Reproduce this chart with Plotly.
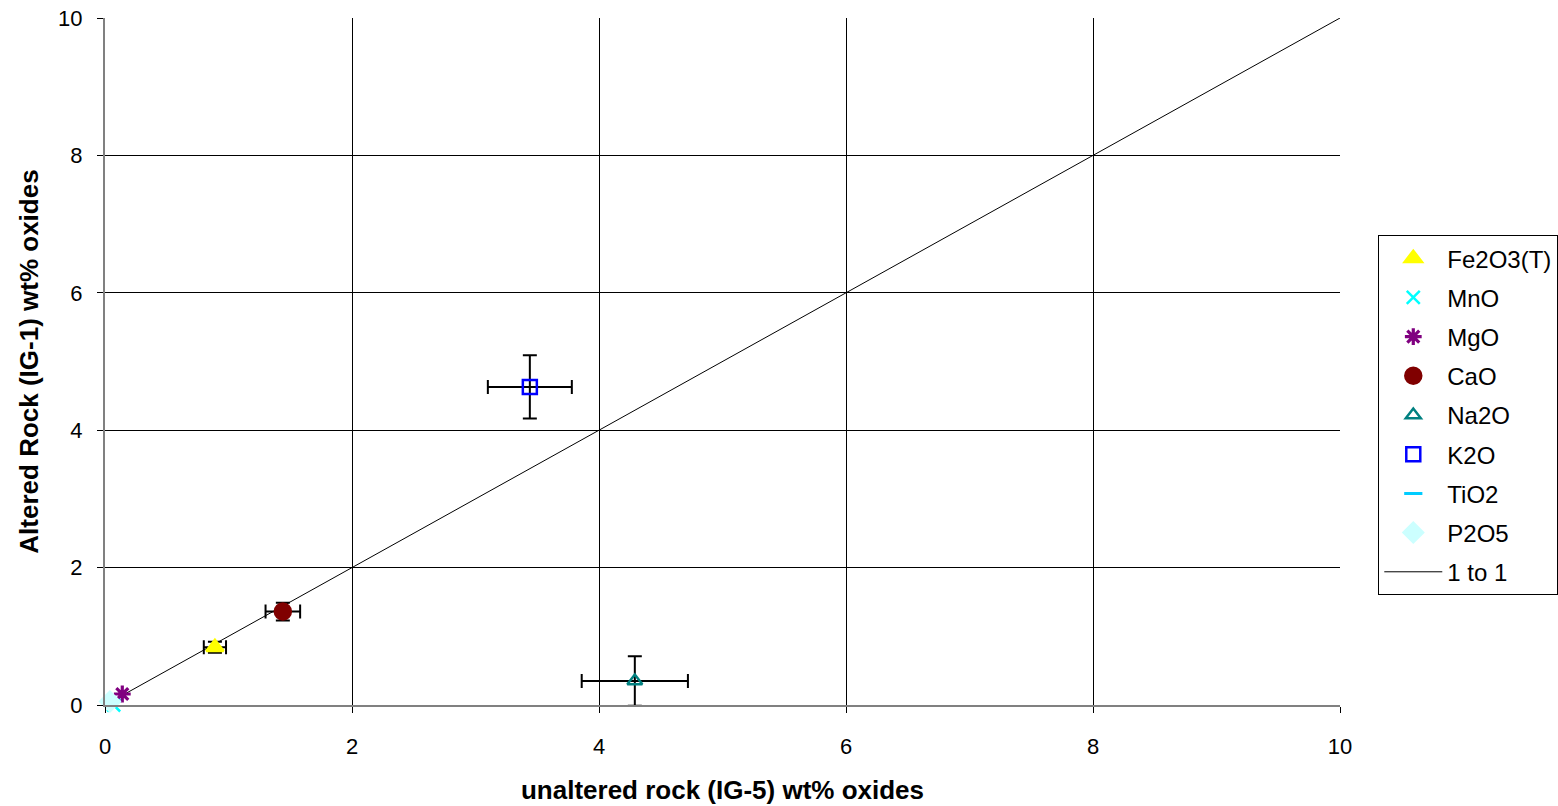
import plotly.graph_objects as go

names = ["Fe2O3(T)", "MnO", "MgO", "CaO", "Na2O", "K2O", "TiO2", "P2O5"]
x_unaltered = [0.89, 0.07, 0.14, 1.44, 4.29, 3.44, 0.05, 0.04]
y_altered = [0.84, 0.0, 0.16, 1.36, 0.35, 4.63, 0.05, 0.05]
x_err = [0.09, 0.0, 0.0, 0.14, 0.43, 0.34, 0.0, 0.0]
y_err = [0.08, 0.0, 0.0, 0.13, 0.36, 0.46, 0.0, 0.0]
symbols = ["triangle-up", "x-thin-open", "asterisk-open", "circle", "triangle-up-open",
           "square-open", "line-ew-open", "diamond"]
colors = ["#FFFF00", "#00FFFF", "#800080", "#800000", "#008080", "#0000FF", "#00CCFF", "#CCFFFF"]
sizes = [15, 13, 14, 16, 13, 14, 13, 15]
line_widths = [2.5, 2.5, 3.2, 2.5, 2.5, 2.5, 3, 2.5]
line_x = [0, 10]
line_y = [0, 10]

FONT = "Liberation Sans, Arial"
fig = go.Figure()
fig.add_trace(go.Scatter(x=line_x, y=line_y, mode="lines", name="1 to 1",
                         line=dict(color="black", width=1), legendrank=1100,
                         legendgroup="line", cliponaxis=False))
for i, n in enumerate(names):
    has_err = x_err[i] > 0
    fig.add_trace(go.Scatter(
        x=[x_unaltered[i]], y=[y_altered[i]], mode="markers", name=n,
        legendrank=1000 + i, legendgroup=n, cliponaxis=False,
        marker=dict(symbol=symbols[i], color=colors[i], size=sizes[i],
                    line=dict(color=colors[i], width=line_widths[i])),
        error_x=dict(type="data", array=[x_err[i]], visible=has_err, color="black",
                     thickness=2, width=7),
        error_y=dict(type="data", array=[y_err[i]], visible=has_err, color="black",
                     thickness=2, width=7),
    ))

axis_common = dict(range=[0, 10], dtick=2, showgrid=True, gridcolor="black", gridwidth=1,
                   showline=True, linecolor="#808080", linewidth=2, ticks="outside",
                   ticklen=6, tickcolor="black", tickwidth=1, zeroline=False,
                   automargin=False,
                   tickfont=dict(size=22, color="black", family=FONT))
fig.update_xaxes(**axis_common, ticklabelstandoff=15,
                 title=dict(text="<b>unaltered rock (IG-5) wt% oxides</b>", standoff=22,
                            font=dict(size=26, color="black", family=FONT)))
fig.update_yaxes(**axis_common, ticklabelstandoff=10,
                 title=dict(text="<b>Altered Rock (IG-1) wt% oxides</b>", standoff=12,
                            font=dict(size=26, color="black", family=FONT)))

fig.update_layout(
    width=1558, height=806,
    paper_bgcolor="white", plot_bgcolor="white",
    margin=dict(l=105, r=218, t=18, b=101, autoexpand=False),
    legend=dict(x=1.031, xanchor="left", y=0.684, yanchor="top",
                bordercolor="black", borderwidth=1, bgcolor="white",
                font=dict(size=24, color="black", family=FONT),
                tracegroupgap=5, itemwidth=58),
    showlegend=True,
)
fig.write_html("out.html")
